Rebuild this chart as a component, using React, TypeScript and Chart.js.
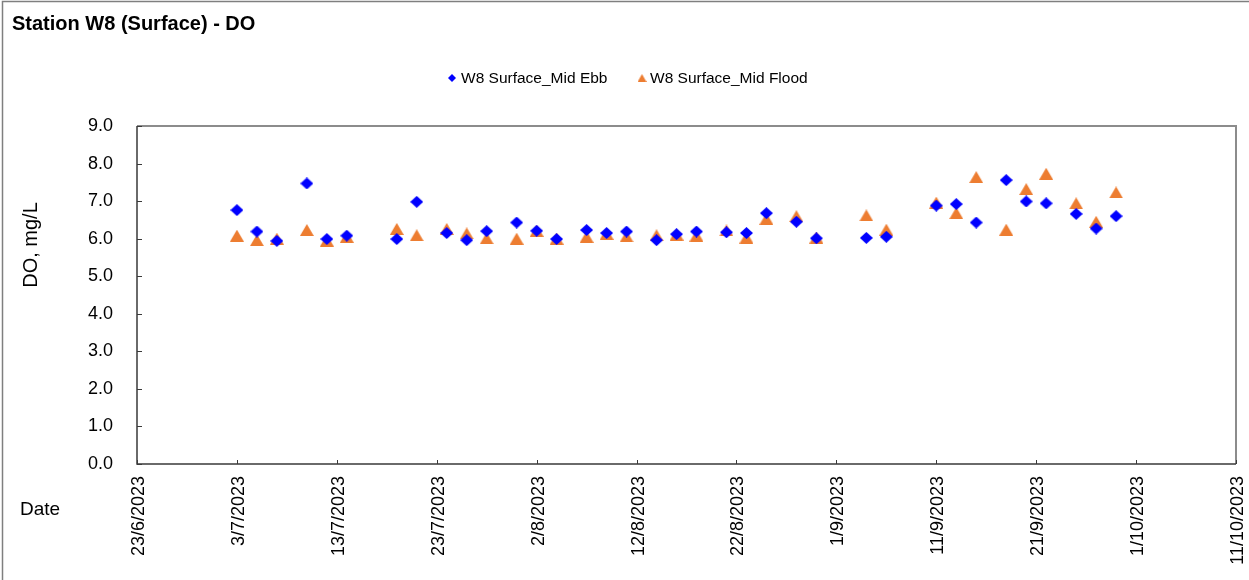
import React, { useEffect, useRef } from "react";
import { Chart, registerables } from "chart.js";

Chart.register(...registerables);

const chartTitle = "Station W8 (Surface) - DO";
const ebbLabel = "W8 Surface_Mid Ebb";
const floodLabel = "W8 Surface_Mid Flood";
const yAxisTitle = "DO, mg/L";
const xAxisTitle = "Date";

const sampleDates = [
  "3/7/2023", "5/7/2023", "7/7/2023", "10/7/2023", "12/7/2023", "14/7/2023",
  "19/7/2023", "21/7/2023", "24/7/2023", "26/7/2023", "28/7/2023", "31/7/2023",
  "2/8/2023", "4/8/2023", "7/8/2023", "9/8/2023", "11/8/2023", "14/8/2023",
  "16/8/2023", "18/8/2023", "21/8/2023", "23/8/2023", "25/8/2023", "28/8/2023",
  "30/8/2023", "4/9/2023", "6/9/2023", "11/9/2023", "13/9/2023", "15/9/2023",
  "18/9/2023", "20/9/2023", "22/9/2023", "25/9/2023", "27/9/2023", "29/9/2023",
];

const ebbValues = [
  6.76, 6.19, 5.94, 7.47, 5.99, 6.08,
  5.99, 6.98, 6.15, 5.96, 6.2, 6.43,
  6.21, 5.99, 6.23, 6.15, 6.19, 5.96,
  6.12, 6.19, 6.17, 6.15, 6.68, 6.45,
  6.01, 6.02, 6.05, 6.88, 6.92, 6.43,
  7.56, 6.99, 6.94, 6.66, 6.27, 6.6,
];

const floodValues = [
  6.08, 5.96, 6.0, 6.23, 5.95, 6.05,
  6.26, 6.09, 6.26, 6.14, 6.01, 6.0,
  6.21, 6.0, 6.05, 6.13, 6.06, 6.09,
  6.11, 6.08, 6.22, 6.03, 6.53, 6.6,
  6.03, 6.62, 6.24, 6.96, 6.68, 7.64,
  6.24, 7.32, 7.73, 6.94, 6.45, 7.23,
];

const xTickLabels = [
  "23/6/2023", "3/7/2023", "13/7/2023", "23/7/2023", "2/8/2023", "12/8/2023",
  "22/8/2023", "1/9/2023", "11/9/2023", "21/9/2023", "1/10/2023", "11/10/2023",
];

const yMin = 0;
const yMax = 9;
const yStep = 1;
const xStepDays = 10;

const FONT = '"Liberation Sans", Arial, sans-serif';
const EBB_COLOR = "#0000FF";
const FLOOD_COLOR = "#ED7D31";

function parseDay(s: string): number {
  const [d, m, y] = s.split("/").map(Number);
  return Date.UTC(y, m - 1, d) / 86400000;
}
const startDay = parseDay(xTickLabels[0]);
const dayOffset = (s: string) => Math.round(parseDay(s) - startDay);

function makeDiamond(w: number, h: number, color: string) {
  const c = document.createElement("canvas");
  c.width = w;
  c.height = h;
  const ctx = c.getContext("2d")!;
  ctx.fillStyle = color;
  ctx.beginPath();
  ctx.moveTo(w / 2, 0);
  ctx.lineTo(w, h / 2);
  ctx.lineTo(w / 2, h);
  ctx.lineTo(0, h / 2);
  ctx.closePath();
  ctx.fill();
  return c;
}

function makeTriangle(w: number, h: number, color: string) {
  const c = document.createElement("canvas");
  c.width = w;
  c.height = h;
  const ctx = c.getContext("2d")!;
  ctx.fillStyle = color;
  ctx.beginPath();
  ctx.moveTo(w / 2, 0);
  ctx.lineTo(w, h);
  ctx.lineTo(0, h);
  ctx.closePath();
  ctx.fill();
  return c;
}

export default function App() {
  const canvasRef = useRef<HTMLCanvasElement | null>(null);

  useEffect(() => {
    if (!canvasRef.current) return;
    const diamond = makeDiamond(13, 12, EBB_COLOR);
    const triangle = makeTriangle(14, 12, FLOOD_COLOR);
    const legendDiamond = makeDiamond(8, 8, EBB_COLOR);
    const legendTriangle = makeTriangle(9, 8, FLOOD_COLOR);

    const framePlugin = {
      id: "frame",
      beforeDatasetsDraw(chart: any) {
        const ctx = chart.ctx as CanvasRenderingContext2D;
        const ca = chart.chartArea;
        const xs = chart.scales.x;
        const ys = chart.scales.y;
        ctx.save();
        // outer border
        ctx.strokeStyle = "#7f7f7f";
        ctx.lineWidth = 1.5;
        ctx.beginPath();
        ctx.moveTo(2.5, 580);
        ctx.lineTo(2.5, 1.5);
        ctx.lineTo(1249, 1.5);
        ctx.stroke();
        // plot top & right border
        ctx.strokeStyle = "#8c8c8c";
        ctx.lineWidth = 2;
        ctx.beginPath();
        ctx.moveTo(ca.left, ca.top);
        ctx.lineTo(ca.right, ca.top);
        ctx.lineTo(ca.right, ca.bottom);
        ctx.stroke();
        // axes
        ctx.strokeStyle = "#3a3a3a";
        ctx.lineWidth = 1.5;
        ctx.beginPath();
        ctx.moveTo(ca.left, ca.top);
        ctx.lineTo(ca.left, ca.bottom);
        ctx.lineTo(ca.right, ca.bottom);
        ctx.stroke();
        // inside ticks
        ctx.lineWidth = 1;
        ctx.beginPath();
        for (let v = yMin; v <= yMax; v += yStep) {
          const py = Math.round(ys.getPixelForValue(v)) + 0.5;
          ctx.moveTo(ca.left, py);
          ctx.lineTo(ca.left + 5, py);
        }
        for (let i = 0; i < xTickLabels.length; i++) {
          const px = Math.round(xs.getPixelForValue(i * xStepDays)) + 0.5;
          ctx.moveTo(px, ca.bottom);
          ctx.lineTo(px, ca.bottom - 4);
        }
        ctx.stroke();
        ctx.restore();
      },
      afterDraw(chart: any) {
        const ctx = chart.ctx as CanvasRenderingContext2D;
        ctx.save();
        ctx.fillStyle = "#000";
        // title
        ctx.font = `bold 20px ${FONT}`;
        ctx.textAlign = "left";
        ctx.textBaseline = "alphabetic";
        ctx.fillText(chartTitle, 12, 30);
        // legend
        ctx.font = `15.5px ${FONT}`;
        ctx.textBaseline = "middle";
        ctx.drawImage(legendDiamond, 452 - 4, 78 - 4);
        ctx.fillText(ebbLabel, 461, 79);
        ctx.drawImage(legendTriangle, 642 - 4.5, 78 - 4);
        ctx.fillText(floodLabel, 650, 79);
        // y axis title
        ctx.font = `20px ${FONT}`;
        ctx.save();
        ctx.translate(31, 245);
        ctx.rotate(-Math.PI / 2);
        ctx.textAlign = "center";
        ctx.textBaseline = "middle";
        ctx.fillText(yAxisTitle, 0, 0);
        ctx.restore();
        // x axis title
        ctx.font = `19px ${FONT}`;
        ctx.textAlign = "left";
        ctx.textBaseline = "alphabetic";
        ctx.fillText(xAxisTitle, 20, 515);
        ctx.restore();
      },
    };

    const chart = new Chart(canvasRef.current, {
      type: "scatter",
      data: {
        datasets: [
          {
            label: ebbLabel,
            data: sampleDates.map((d, i) => ({ x: dayOffset(d), y: ebbValues[i] })),
            pointStyle: diamond as any,
            backgroundColor: EBB_COLOR,
            borderColor: EBB_COLOR,
            showLine: false,
          },
          {
            label: floodLabel,
            data: sampleDates.map((d, i) => ({ x: dayOffset(d), y: floodValues[i] })),
            pointStyle: triangle as any,
            backgroundColor: FLOOD_COLOR,
            borderColor: FLOOD_COLOR,
            showLine: false,
          },
        ],
      },
      options: {
        responsive: false,
        animation: false,
        events: [],
        layout: { padding: { top: 126, right: 13, left: 0, bottom: 0 } },
        plugins: {
          legend: { display: false },
          tooltip: { enabled: false },
          title: { display: false },
        },
        scales: {
          x: {
            type: "linear",
            min: 0,
            max: (xTickLabels.length - 1) * xStepDays,
            afterFit: (s: any) => {
              s.height = 116;
              s.paddingLeft = 0;
              s.paddingRight = 0;
            },
            afterBuildTicks: (s: any) => {
              s.ticks = xTickLabels.map((_, i) => ({ value: i * xStepDays }));
            },
            ticks: {
              autoSkip: false,
              maxRotation: 90,
              minRotation: 90,
              padding: 12,
              labelOffset: 2,
              color: "#000",
              font: { family: FONT, size: 18 },
              callback: (_v: any, i: number) => xTickLabels[i],
            },
            grid: { display: false, drawTicks: false },
            border: { display: false },
          },
          y: {
            min: yMin,
            max: yMax,
            afterFit: (s: any) => {
              s.width = 137;
              s.paddingTop = 0;
              s.paddingBottom = 0;
            },
            ticks: {
              stepSize: yStep,
              padding: 24,
              color: "#000",
              font: { family: FONT, size: 18 },
              callback: (v: any) => Number(v).toFixed(1),
            },
            grid: { display: false, drawTicks: false },
            border: { display: false },
          },
        },
      },
      plugins: [framePlugin],
    });
    return () => chart.destroy();
  }, []);

  return (
    <div style={{ position: "absolute", left: 0, top: 0, width: 1249, height: 580, background: "#fff" }}>
      <canvas ref={canvasRef} width={1249} height={580} style={{ display: "block" }} />
    </div>
  );
}
